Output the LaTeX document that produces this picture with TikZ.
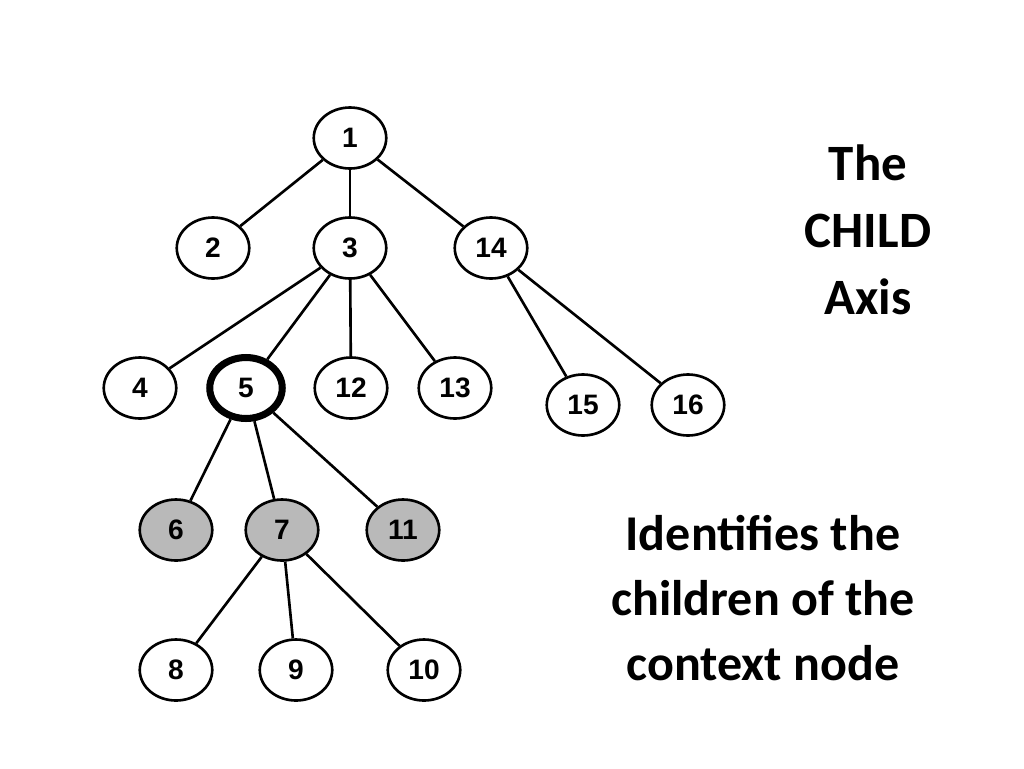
\documentclass[tikz,border=0pt]{standalone}
\usepackage{fontspec}
\setmainfont{Carlito}
\newfontfamily\nodefont{Liberation Sans}
\usetikzlibrary{shapes.geometric}
\begin{document}
\begin{tikzpicture}[x=0.02cm,y=-0.02cm,
  treenode/.style={ellipse,draw,line width=1.5pt,minimum width=1.45cm,minimum height=1.22cm,inner sep=0pt,font=\nodefont\bfseries\fontsize{16}{16}\selectfont},
  childnode/.style={treenode,fill=gray!55},
  contextnode/.style={treenode,line width=4pt},
  link/.style={line width=1.5pt},
  caption/.style={align=center,font=\bfseries\fontsize{29}{38}\selectfont}]
\useasboundingbox (0,0) rectangle (1024,768);
\node[treenode]    (n1)  at (350,138) {1};
\node[treenode]    (n2)  at (213,248) {2};
\node[treenode]    (n3)  at (350,248) {3};
\node[treenode]    (n14) at (491,248) {14};
\node[treenode]    (n4)  at (140,388) {4};
\node[contextnode] (n5)  at (246,388) {5};
\node[treenode]    (n12) at (351,388) {12};
\node[treenode]    (n13) at (455,388) {13};
\node[treenode]    (n15) at (583,405) {15};
\node[treenode]    (n16) at (688,405) {16};
\node[childnode]   (n6)  at (176,530) {6};
\node[childnode]   (n7)  at (282,530) {7};
\node[childnode]   (n11) at (403,530) {11};
\node[treenode]    (n8)  at (176,670) {8};
\node[treenode]    (n9)  at (296,670) {9};
\node[treenode]    (n10) at (424,670) {10};
\foreach \a/\b in {n1/n2,n1/n3,n1/n14,n3/n4,n3/n5,n3/n12,n3/n13,n14/n15,n14/n16,
                   n5/n6,n5/n7,n5/n11,n7/n8,n7/n9,n7/n10}
  \draw[link] (\a) -- (\b);
\node[caption] (title) at (868,230) {The\\CHILD\\Axis};
\node[caption,font=\bfseries\fontsize{28.5}{37}\selectfont] (desc) at (763,598) {Identifies the\\children of the\\context node};
\end{tikzpicture}
\end{document}
